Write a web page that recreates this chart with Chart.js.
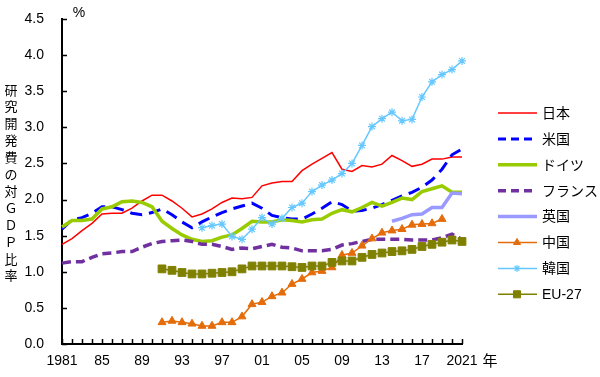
<!DOCTYPE html>
<html>
<head>
<meta charset="utf-8">
<script src="https://cdn.jsdelivr.net/npm/chart.js@4/dist/chart.umd.min.js"></script>
<style>
html, body { margin: 0; padding: 0; background: #fff; }
#wrap { width: 600px; height: 377px; }
</style>
</head>
<body>
<div id="wrap"><canvas id="myChart"></canvas></div>
<script>
// years on the x axis
var years = ['1981','1982','1983','1984','1985','1986','1987','1988','1989','1990',
  '1991','1992','1993','1994','1995','1996','1997','1998','1999','2000',
  '2001','2002','2003','2004','2005','2006','2007','2008','2009','2010',
  '2011','2012','2013','2014','2015','2016','2017','2018','2019','2020','2021'];
// only these years get a label, written the way the source writes them
var xTickYears = ['1981','1985','1989','1993','1997','2001','2005','2009','2013','2017','2021'];
var xTickLabels = ['1981','85','89','93','97','01','05','09','13','17','2021'];
var yTicks = [0, 0.5, 1, 1.5, 2, 2.5, 3, 3.5, 4, 4.5];

// values (%)
var japan = [1.38,1.46,1.57,1.67,1.80,1.81,1.81,1.88,1.98,2.06,
  2.06,1.98,1.88,1.76,1.80,1.87,1.96,2.02,2.01,2.03,
  2.19,2.23,2.25,2.25,2.40,2.49,2.57,2.65,2.42,2.39,
  2.47,2.45,2.49,2.61,2.54,2.46,2.49,2.56,2.56,2.59,2.59];
var usa = [1.59,1.72,1.75,1.81,1.90,1.90,1.86,1.81,1.79,1.82,
  1.87,1.79,1.69,1.61,1.69,1.76,1.82,1.87,1.91,1.95,
  1.88,1.78,1.75,1.73,1.73,1.80,1.88,1.97,1.93,1.84,
  1.85,1.88,1.93,1.99,2.05,2.10,2.17,2.27,2.42,2.62,2.70];
var germany = [1.62,1.71,1.71,1.73,1.87,1.90,1.97,1.98,1.96,1.90,
  1.70,1.60,1.51,1.45,1.42,1.43,1.48,1.51,1.60,1.70,
  1.69,1.69,1.72,1.71,1.69,1.72,1.73,1.81,1.86,1.83,
  1.89,1.96,1.91,1.96,2.02,2.00,2.11,2.15,2.19,2.10,2.10];
var france = [1.12,1.14,1.14,1.20,1.25,1.26,1.28,1.28,1.34,1.39,
  1.42,1.43,1.44,1.42,1.38,1.38,1.35,1.31,1.33,1.32,
  1.35,1.38,1.34,1.33,1.29,1.29,1.29,1.31,1.37,1.39,
  1.42,1.45,1.45,1.45,1.45,1.44,1.44,1.44,1.47,1.52,1.45];
var ukStart = 2014;
var uk = [1.70,1.74,1.79,1.80,1.89,1.89,2.09,2.08];
var chinaStart = 1991;
var china = [0.30,0.32,0.30,0.28,0.25,0.25,0.30,0.30,0.38,0.55,
  0.58,0.66,0.71,0.83,0.90,0.99,1.01,1.06,1.23,1.26,
  1.36,1.46,1.54,1.57,1.59,1.65,1.66,1.67,1.73];
var koreaStart = 1995;
var korea = [1.61,1.64,1.66,1.49,1.45,1.59,
  1.75,1.66,1.74,1.89,1.95,2.11,2.20,2.27,2.36,2.50,
  2.75,3.01,3.12,3.21,3.09,3.11,3.42,3.63,3.73,3.80,3.92];
var euStart = 1991;
var eu27 = [1.04,1.02,0.99,0.97,0.97,0.98,0.99,1.00,1.04,1.08,
  1.08,1.08,1.08,1.07,1.06,1.08,1.08,1.13,1.15,1.15,
  1.20,1.24,1.26,1.28,1.29,1.31,1.35,1.38,1.41,1.44,1.42];

var yTitle = ['研','究','開','発','費','の','対','Ｇ','Ｄ','Ｐ','比','率'];

var FONT = '"Liberation Sans", "Noto Sans CJK JP", sans-serif';

// series that start later get nulls in front
function pad(start, vals) {
  var out = [];
  for (var i = 0; i < start - 1981; i++) out.push(null);
  return out.concat(vals);
}

function series(label, vals, color, width, extra) {
  var ds = {
    label: label, data: vals, borderColor: color, backgroundColor: color,
    borderWidth: width, pointRadius: 0, tension: 0, spanGaps: false, clip: false,
    pointBorderColor: color, pointBackgroundColor: color, pointBorderWidth: 1
  };
  for (var k in extra) ds[k] = extra[k];
  return ds;
}

var datasets = [
  series('EU-27', pad(euStart, eu27), '#808000', 1.5, {pointStyle: 'rect', pointRadius: 5.5}),
  series('韓国', pad(koreaStart, korea), '#66c8ff', 1.5, {pointStyle: 'star', pointRadius: 4, pointBorderWidth: 1.2}),
  series('中国', pad(chinaStart, china), '#e46c0a', 1.5, {pointStyle: 'triangle', pointRadius: 4.6}),
  series('英国', pad(ukStart, uk), '#9999ff', 3.5, {}),
  series('フランス', france, '#7030a0', 3.5, {borderDash: [9, 5]}),
  series('ドイツ', germany, '#99cc00', 3.5, {}),
  series('米国', usa, '#0000ff', 3, {borderDash: [12, 7]}),
  series('日本', japan, '#ff0000', 1.5, {})
];
var legendOrder = ['日本','米国','ドイツ','フランス','英国','中国','韓国','EU-27'];

var extras = {
  id: 'extras',
  afterDraw: function(chart) {
    var ctx = chart.ctx, x = chart.scales.x, y = chart.scales.y, a = chart.chartArea;
    ctx.save();
    // tick marks pointing into the plot
    ctx.strokeStyle = '#000';
    ctx.lineWidth = 1.5;
    ctx.beginPath();
    for (var i = 0; i < years.length; i++) {
      var px = Math.round(x.getPixelForValue(i)) + 0.5;
      ctx.moveTo(px, a.bottom);
      ctx.lineTo(px, a.bottom - 5);
    }
    yTicks.forEach(function(v) {
      var py = Math.round(y.getPixelForValue(v)) + 0.5;
      ctx.moveTo(a.left, py);
      ctx.lineTo(a.left + 5, py);
    });
    ctx.stroke();

    // unit labels
    ctx.fillStyle = '#000';
    ctx.textAlign = 'center';
    ctx.textBaseline = 'middle';
    ctx.font = '14px ' + FONT;
    ctx.fillText('%', 79, 13);
    ctx.font = '15px ' + FONT;
    ctx.fillText('年', 490, 362);

    // vertical axis title
    ctx.font = '13px ' + FONT;
    yTitle.forEach(function(c, i) {
      ctx.fillText(c, 11, 91 + i * 16.9);
    });

    // legend
    ctx.textAlign = 'left';
    ctx.font = '14px ' + FONT;
    legendOrder.forEach(function(name, i) {
      var ds = chart.data.datasets.find(function(d) { return d.label === name; });
      var ly = 113 + i * 25.9;
      ctx.strokeStyle = ds.borderColor;
      ctx.lineWidth = ds.borderWidth;
      ctx.setLineDash(ds.borderDash ? [8, 5] : []);
      ctx.beginPath();
      ctx.moveTo(498, ly);
      ctx.lineTo(537, ly);
      ctx.stroke();
      ctx.setLineDash([]);
      if (ds.pointRadius > 0) {
        ctx.fillStyle = ds.pointBackgroundColor;
        ctx.strokeStyle = ds.pointBorderColor;
        ctx.lineWidth = ds.pointBorderWidth;
        Chart.helpers.drawPoint(ctx, {pointStyle: ds.pointStyle, radius: ds.pointRadius - 0.5, rotation: 0, borderWidth: ds.pointBorderWidth}, 517, ly);
      }
      ctx.fillStyle = '#000';
      ctx.fillText(name, 542, ly + 1);
    });
    ctx.restore();
  }
};

var ctx = document.getElementById('myChart').getContext('2d');
var myChart = new Chart(ctx, {
  type: 'line',
  data: { labels: years, datasets: datasets },
  options: {
    responsive: true,
    maintainAspectRatio: false,
    animation: false,
    layout: { padding: { left: 0, right: 138, top: 19, bottom: 0 } },
    plugins: { legend: { display: false }, tooltip: { enabled: false } },
    scales: {
      x: {
        type: 'category',
        offset: false,
        grid: { display: false, drawTicks: false, offset: false },
        border: { display: true, color: '#000', width: 2 },
        ticks: {
          autoSkip: false, maxRotation: 0, padding: 9, color: '#000',
          font: { family: FONT, size: 14 },
          callback: function(value) {
            var idx = xTickYears.indexOf(years[value]);
            return idx >= 0 ? xTickLabels[idx] : '';
          }
        },
        afterFit: function(scale) { scale.height = 33; }
      },
      y: {
        min: 0, max: 4.5,
        grid: { display: false, drawTicks: false },
        border: { display: true, color: '#000', width: 2 },
        ticks: {
          stepSize: 0.5, padding: 18, color: '#000',
          font: { family: FONT, size: 14 },
          callback: function(v) { return v.toFixed(1); }
        },
        afterFit: function(scale) {
          // the label padding would otherwise push the plot top down
          scale.width = 62;
          scale.paddingTop = 0;
          scale.paddingBottom = 0;
        }
      }
    }
  },
  plugins: [extras]
});
</script>
</body>
</html>
